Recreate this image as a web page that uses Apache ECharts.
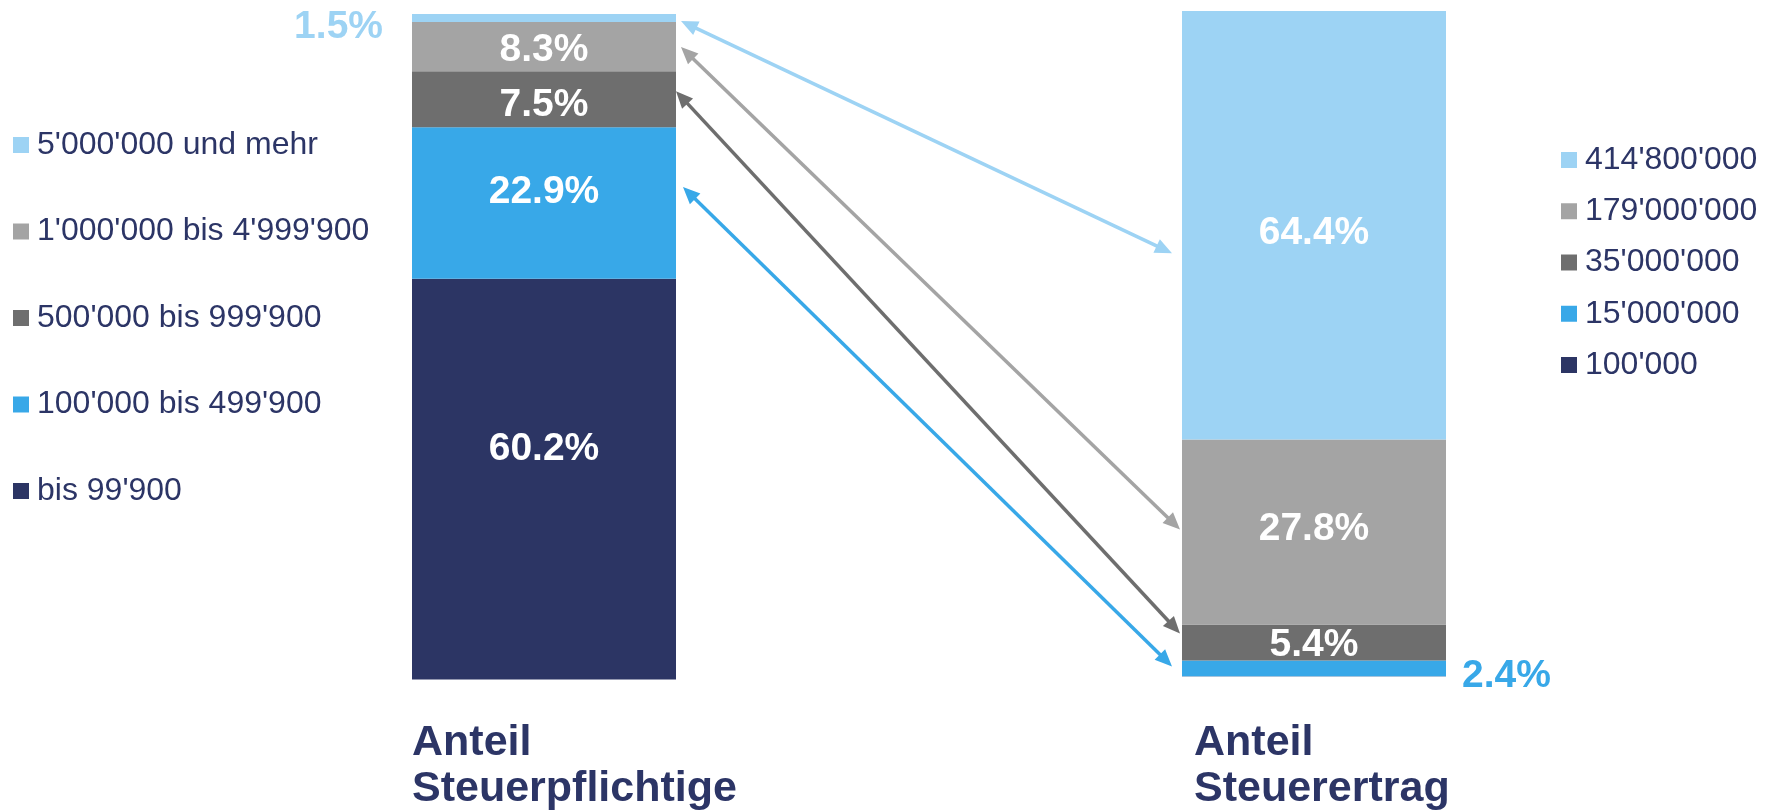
<!DOCTYPE html>
<html>
<head>
<meta charset="utf-8">
<script src="https://cdn.jsdelivr.net/npm/echarts@6/dist/echarts.min.js"></script>
<style>
html,body{margin:0;padding:0;background:#ffffff;}
#chart{width:1767px;height:811px;}
</style>
</head>
<body>
<div id="chart"></div>
<script>
// ---- data ----
const leftCategory = ['Anteil\nSteuerpflichtige'];
const rightCategory = ['Anteil\nSteuerertrag'];
// stacked bottom -> top
const leftNames = ["bis 99'900", "100'000 bis 499'900", "500'000 bis 999'900", "1'000'000 bis 4'999'900", "5'000'000 und mehr"];
const leftValues = [60.2, 22.8, 8.4, 7.4, 1.2];
const leftLabels = ['60.2%', '22.9%', '7.5%', '8.3%', '1.5%'];
const rightNames = ["100'000", "15'000'000", "35'000'000", "179'000'000", "414'800'000"];
const rightValues = [0.02, 2.4, 5.4, 27.8, 64.4];
const rightLabels = ['', '2.4%', '5.4%', '27.8%', '64.4%'];

// ---- style / layout ----
const colors = ['#2c3564', '#38a8e8', '#6e6e6e', '#a4a4a4', '#9dd3f4'];
const NAVY = '#2c3566';
const FONT = '"Liberation Sans", Arial, sans-serif';
const BAR_W = 264;
const leftLabelCfg = [
  {pos: 'inside', off: [0, -30]},
  {pos: 'inside', off: [0, -11]},
  {pos: 'inside', off: [0, 6]},
  {pos: 'inside', off: [0, 4]},
  {pos: 'left', off: [0, 9], dist: 29, color: colors[4]}
];
const rightLabelCfg = [
  {show: false},
  {pos: 'right', off: [0, 8], dist: 16, color: colors[1]},
  {pos: 'inside', off: [0, 3]},
  {pos: 'inside', off: [0, -3]},
  {pos: 'inside', off: [0, 8]}
];
// arrow pixel tweaks: order light, gray, dark, blue (series index 4,3,2,1)
const arrowIdx = [4, 3, 2, 1];
const arrowAdj = [
  {ldx: 5, ldy: 3, rdx: -10, rdy: 28},
  {ldx: 5, ldy: 0.5, rdx: -2, rdy: -2.5},
  {ldx: 0, ldy: -8, rdx: -2, rdy: -9},
  {ldx: 7, ldy: -16, rdx: -10, rdy: -2}
];

const sum = a => a.reduce((s, v) => s + v, 0);

function makeSeries(names, values, labels, gi, cfg) {
  return names.map((n, i) => {
    const c = cfg[i];
    return {
      name: n,
      type: 'bar',
      stack: 'g' + gi,
      xAxisIndex: gi,
      yAxisIndex: gi,
      barWidth: '100%',
      barCategoryGap: 0,
      itemStyle: {color: colors[i]},
      emphasis: {disabled: true},
      label: {
        show: c.show !== false,
        position: c.pos,
        distance: c.dist || 5,
        offset: c.off,
        formatter: () => labels[i],
        color: c.color || '#ffffff',
        fontSize: 39,
        fontWeight: 'bold',
        fontFamily: FONT
      },
      data: [values[i]]
    };
  });
}

function catAxis(data, gi, width, margin) {
  return {
    type: 'category',
    gridIndex: gi,
    data: data,
    axisLine: {show: false},
    axisTick: {show: false},
    axisLabel: {
      interval: 0,
      margin: margin,
      formatter: v => v.split('\n').map(s => '{a|' + s + '}').join('\n'),
      rich: {
        a: {width: width, align: 'left', fontSize: 43, fontWeight: 'bold', lineHeight: 46, color: NAVY, fontFamily: FONT}
      }
    }
  };
}

const legendText = {fontSize: 32, lineHeight: 36, color: NAVY, fontFamily: FONT, padding: [0, 0, 0, 3]};

const option = {
  backgroundColor: '#ffffff',
  animation: false,
  grid: [
    {left: 412, top: 14, width: BAR_W, height: 666},
    {left: 1182, top: 11, width: BAR_W, height: 666}
  ],
  xAxis: [
    catAxis(leftCategory, 0, 264, 41),
    catAxis(rightCategory, 1, 240, 44)
  ],
  yAxis: [
    {type: 'value', gridIndex: 0, min: 0, max: sum(leftValues), show: false, splitLine: {show: false}},
    {type: 'value', gridIndex: 1, min: 0, max: sum(rightValues), show: false, splitLine: {show: false}}
  ],
  legend: [
    {
      data: leftNames.slice().reverse(),
      orient: 'vertical', left: 13, top: 127, padding: 0,
      itemGap: 50.5, itemWidth: 16, itemHeight: 16, icon: 'rect',
      selectedMode: false, textStyle: legendText
    },
    {
      data: rightNames.slice().reverse(),
      orient: 'vertical', left: 1561, top: 142, padding: 0,
      itemGap: 15.25, itemWidth: 16, itemHeight: 16, icon: 'rect',
      selectedMode: false, textStyle: legendText
    }
  ],
  series: makeSeries(leftNames, leftValues, leftLabels, 0, leftLabelCfg)
    .concat(makeSeries(rightNames, rightValues, rightLabels, 1, rightLabelCfg))
};

const chart = echarts.init(document.getElementById('chart'), null, {renderer: 'canvas'});
chart.setOption(option);

function segMid(values, i) {
  let below = 0;
  for (let k = 0; k < i; k++) below += values[k];
  return below + values[i] / 2;
}

const graphics = [];
const HEAD_L = 17, HEAD_W = 7.5;
arrowIdx.forEach((si, a) => {
  const adj = arrowAdj[a];
  const lx = chart.convertToPixel({xAxisIndex: 0}, 0) + BAR_W / 2 + adj.ldx;
  const ly = chart.convertToPixel({yAxisIndex: 0}, segMid(leftValues, si)) + adj.ldy;
  const rx = chart.convertToPixel({xAxisIndex: 1}, 0) - BAR_W / 2 + adj.rdx;
  const ry = chart.convertToPixel({yAxisIndex: 1}, segMid(rightValues, si)) + adj.rdy;
  const col = colors[si];
  const dx = rx - lx, dy = ry - ly, len = Math.sqrt(dx * dx + dy * dy);
  const ux = dx / len, uy = dy / len, nx = -uy, ny = ux;
  const sh = HEAD_L * 0.8;
  graphics.push({
    type: 'line', silent: true, z: 10,
    shape: {x1: lx + ux * sh, y1: ly + uy * sh, x2: rx - ux * sh, y2: ry - uy * sh},
    style: {stroke: col, lineWidth: 3.5}
  });
  graphics.push({
    type: 'polygon', silent: true, z: 10,
    shape: {points: [[lx, ly], [lx + ux * HEAD_L + nx * HEAD_W, ly + uy * HEAD_L + ny * HEAD_W], [lx + ux * HEAD_L - nx * HEAD_W, ly + uy * HEAD_L - ny * HEAD_W]]},
    style: {fill: col}
  });
  graphics.push({
    type: 'polygon', silent: true, z: 10,
    shape: {points: [[rx, ry], [rx - ux * HEAD_L + nx * HEAD_W, ry - uy * HEAD_L + ny * HEAD_W], [rx - ux * HEAD_L - nx * HEAD_W, ry - uy * HEAD_L - ny * HEAD_W]]},
    style: {fill: col}
  });
});
chart.setOption({graphic: graphics});
</script>
</body>
</html>
